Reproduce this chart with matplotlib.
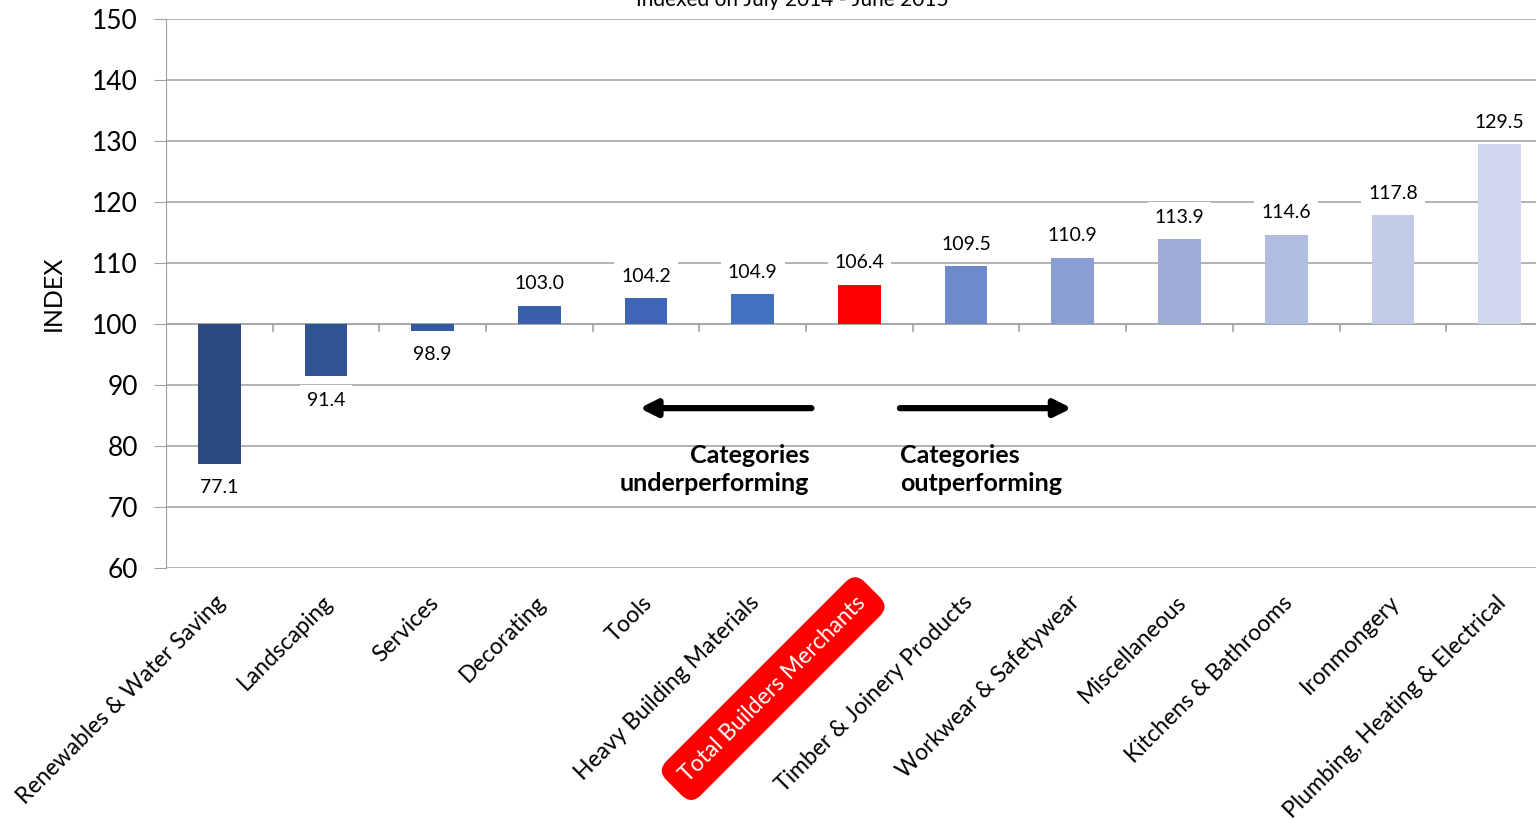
import matplotlib.pyplot as plt

plt.rcParams['font.family'] = ['Lato', 'DejaVu Sans']

categories = ['Renewables & Water Saving', 'Landscaping', 'Services', 'Decorating', 'Tools',
              'Heavy Building Materials', 'Total Builders Merchants', 'Timber & Joinery Products',
              'Workwear & Safetywear', 'Miscellaneous', 'Kitchens & Bathrooms', 'Ironmongery',
              'Plumbing, Heating & Electrical']
index_values = [77.1, 91.4, 98.9, 103.0, 104.2, 104.9, 106.4, 109.5, 110.9, 113.9, 114.6, 117.8, 129.5]
bar_colors = ['#2B4A7F', '#2F5491', '#3459A0', '#3A60AB', '#3F66B6', '#4470C1', '#FF0000',
              '#6F8ACA', '#8A9ED2', '#9DADD8', '#B0BDE0', '#C2CCE7', '#D0D7EC']
total_name = 'Total Builders Merchants'
base = 100

fig = plt.figure(figsize=(15.36, 8.19), dpi=100)
ax = fig.add_axes([0.108, 0.3065, 0.903, 0.6703])

x = list(range(len(categories)))
heights = [v - base for v in index_values]
ax.bar(x, heights, bottom=base, width=0.4, color=bar_colors, zorder=3)

ax.set_xlim(-0.5, len(categories) - 0.5)
ax.set_ylim(60, 150)
ax.set_yticks(range(60, 151, 10))
ax.tick_params(axis='y', labelsize=19, length=9, color='#A0A0A0', pad=11)
ax.grid(axis='y', color='#A6A6A6', linewidth=1.2, zorder=0)
ax.set_ylabel('INDEX', fontsize=18, labelpad=20)

for s in ['top', 'right', 'bottom']:
    ax.spines[s].set_visible(False)
ax.spines['left'].set_color('#A0A0A0')

# category boundary ticks hanging off the 100 line
for b in [i + 0.5 for i in x[:-1]]:
    ax.plot([b, b], [base, base - 1.2], color='#A0A0A0', lw=1.2, zorder=2)
ax.axhline(base, color='#A6A6A6', lw=1.2, zorder=2)

ax.set_xticks(x)
ax.set_xticklabels([])
ax.tick_params(axis='x', length=0)

# value labels with white boxes over the gridlines
for xi, v in zip(x, index_values):
    off = 3.6 if v >= base else -3.9
    ax.text(xi, v + off, f'{v:.1f}', ha='center', va='center', fontsize=14, zorder=4,
            bbox=dict(facecolor='white', edgecolor='none', pad=5))

# rotated category names below the plot
for xi, name in zip(x, categories):
    if name == total_name:
        ax.text(xi - 0.04, 56.1, name, rotation=45, ha='right', va='top', fontsize=16.5,
                color='white', rotation_mode='anchor',
                bbox=dict(boxstyle='round,pad=0.6,rounding_size=0.6', facecolor='#FF0000',
                          edgecolor='none'))
    else:
        ax.text(xi - 0.04, 56.1, name, rotation=45, ha='right', va='top', fontsize=16.5,
                rotation_mode='anchor')

# arrows and notes
ax.annotate('', xy=(3.94, 86.2), xytext=(5.55, 86.2),
            arrowprops=dict(arrowstyle='-|>,head_length=1.0,head_width=0.5', lw=4.5, color='black',
                            shrinkA=0, shrinkB=0))
ax.annotate('', xy=(7.99, 86.2), xytext=(6.38, 86.2),
            arrowprops=dict(arrowstyle='-|>,head_length=1.0,head_width=0.5', lw=4.5, color='black',
                            shrinkA=0, shrinkB=0))
ax.text(5.53, 80.3, 'Categories\nunderperforming', ha='right', va='top', fontsize=18,
        fontweight='bold', linespacing=1.25)
ax.text(6.38, 80.3, 'Categories\noutperforming', ha='left', va='top', fontsize=18,
        fontweight='bold', linespacing=1.25)

fig.text(0.516, 1.0, 'Indexed on July 2014 - June 2015', ha='center', va='center', fontsize=15)

fig.savefig('out.png', dpi=100)
